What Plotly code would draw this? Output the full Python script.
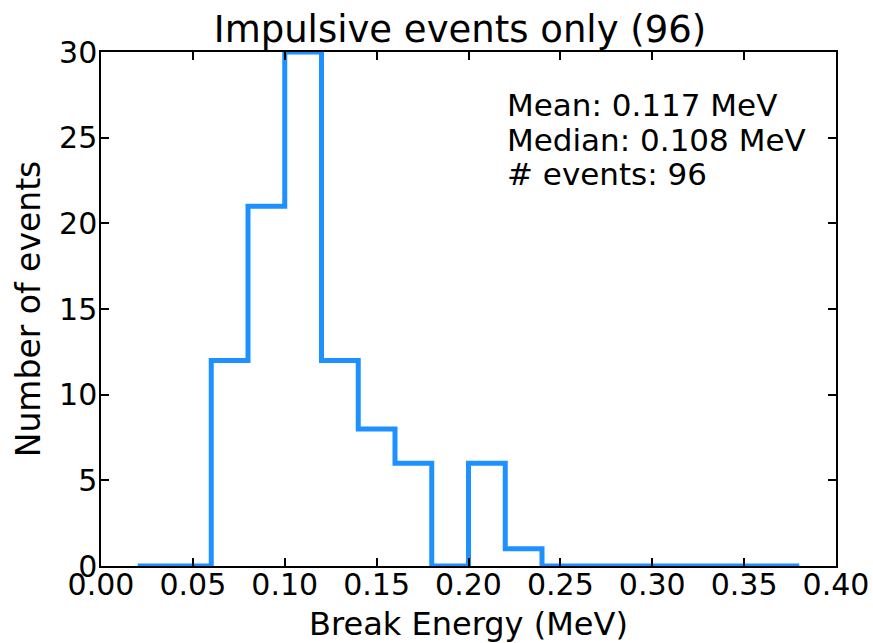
import plotly.graph_objects as go

# Histogram data (bin edges in MeV, counts per bin)
bin_edges = [0.02, 0.04, 0.06, 0.08, 0.10, 0.12, 0.14, 0.16, 0.18, 0.20,
             0.22, 0.24, 0.26, 0.28, 0.30, 0.32, 0.34, 0.36, 0.38]
counts = [0, 0, 12, 21, 30, 12, 8, 6, 0, 6, 1, 0, 0, 0, 0, 0, 0, 0]

x_ticks = [0.00, 0.05, 0.10, 0.15, 0.20, 0.25, 0.30, 0.35, 0.40]
y_ticks = [0, 5, 10, 15, 20, 25, 30]

title_text = "Impulsive events only (96)"
stats_lines = ["Mean: 0.117 MeV", "Median: 0.108 MeV", "# events: 96"]

FONT = "DejaVu Sans"

fig = go.Figure()
fig.add_trace(go.Scatter(
    x=bin_edges,
    y=counts + [counts[-1]],
    mode="lines",
    line=dict(shape="hv", color="#1E90FF", width=5),
    showlegend=False,
    hoverinfo="skip",
))

axis_common = dict(
    showline=True, linecolor="black", linewidth=1.5, mirror="ticks",
    ticks="inside", ticklen=8, tickwidth=1.5, tickcolor="black",
    showgrid=False, zeroline=False, automargin=False,
    tickfont=dict(family=FONT, size=30, color="black"),
)

fig.update_layout(
    width=873, height=643,
    margin=dict(l=101, r=37, t=52, b=77),
    paper_bgcolor="white", plot_bgcolor="white",
    font=dict(family=FONT, color="black"),
    title=dict(text=title_text, font=dict(family=FONT, size=37, color="black"),
               x=460/873, xanchor="center", xref="container",
               y=1-29/643, yanchor="middle", yref="container"),
    xaxis=dict(range=[0, 0.4], tickvals=x_ticks, tickformat=".2f",
               title=dict(text="Break Energy (MeV)", font=dict(family=FONT, size=32), standoff=20),
               ticklabelstandoff=-9, **axis_common),
    yaxis=dict(range=[0, 30], tickvals=y_ticks,
               title=dict(text="Number of events", font=dict(family=FONT, size=33), standoff=9),
               ticklabelstandoff=-4, **axis_common),
)

y_positions = [0.897, 0.829, 0.762]
for line, yp in zip(stats_lines, y_positions):
    fig.add_annotation(
        text=line, xref="paper", yref="paper", x=0.550, y=yp,
        xanchor="left", yanchor="middle", showarrow=False,
        font=dict(family=FONT, size=31, color="black"),
    )

fig.write_html("out.html")
